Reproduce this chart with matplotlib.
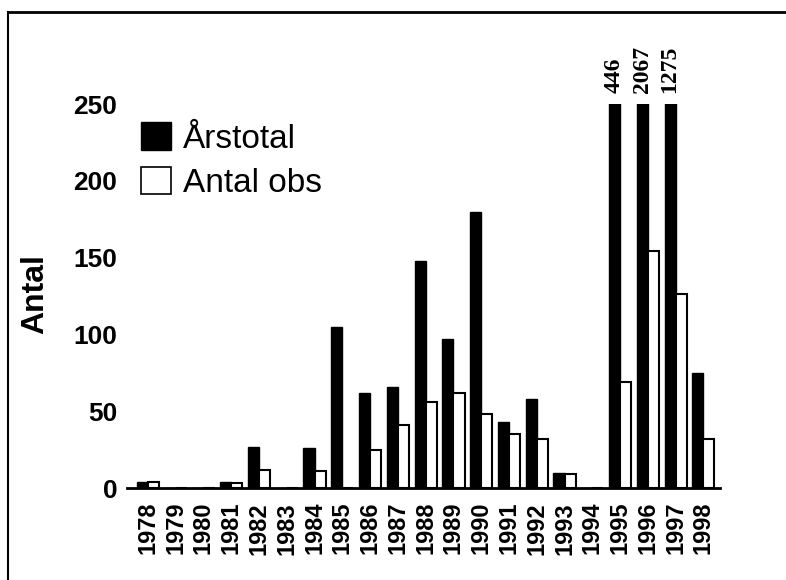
import matplotlib

matplotlib.use("Agg")
import matplotlib.pyplot as plt
from matplotlib.lines import Line2D
from matplotlib.patches import Patch
import numpy as np

# Data
years = [str(y) for y in range(1978, 1999)]
arstotal = [4, 0, 0, 4, 27, 0, 26, 105, 62, 66, 148, 97, 180, 43, 58, 10, 0, 446, 2067, 1275, 75]
antal_obs = [4, 0, 0, 3, 12, 0, 11, 0, 25, 41, 56, 62, 48, 35, 32, 9, 0, 69, 154, 126, 32]
y_max = 250
y_ticks = [0, 50, 100, 150, 200, 250]

plt.rcParams["font.family"] = ["Liberation Sans", "DejaVu Sans"]

fig = plt.figure(figsize=(7.86, 5.8), dpi=100)
ax = fig.add_axes([0.1616, 0.1586, 0.7545, 0.662])

x = np.arange(len(years))
w = 0.4
ax.bar(x - w / 2, arstotal, width=w, color="black", edgecolor="black", linewidth=1.0)
ax.bar(x + w / 2, antal_obs, width=w, color="white", edgecolor="black", linewidth=1.5)

# values that go off the scale are written above the clipped bars
for xi, val in zip(x, arstotal):
    if val > y_max:
        ax.annotate(
            str(val), xy=(xi - w / 2, y_max), xytext=(0, 8), textcoords="offset points",
            rotation=90, ha="center", va="bottom", fontsize=17, fontweight="bold",
            family=["Liberation Serif", "DejaVu Serif"], annotation_clip=False,
        )

ax.set_xlim(-0.75, 20.6)
ax.set_ylim(0, y_max)
ax.set_yticks(y_ticks)
ax.set_xticks(x)
ax.set_xticklabels(years, rotation=90, fontsize=17, fontweight="bold")
ax.tick_params(axis="x", length=0, pad=10)
ax.tick_params(axis="y", length=0, pad=7, labelsize=19)
for lab in ax.get_yticklabels():
    lab.set_fontweight("bold")

for side in ["top", "right", "left"]:
    ax.spines[side].set_visible(False)
ax.spines["bottom"].set_linewidth(2)

ax.set_ylabel("Antal", fontsize=23, fontweight="bold")
ax.yaxis.set_label_coords(-0.13, 0.505)

handles = [
    Patch(facecolor="black", edgecolor="black", label="Årstotal"),
    Patch(facecolor="white", edgecolor="black", linewidth=1.2, label="Antal obs"),
]
ax.legend(
    handles=handles, loc="upper left", bbox_to_anchor=(0.024, 0.952), frameon=False,
    fontsize=24, handlelength=0.9, handleheight=0.9, handletextpad=0.35,
    labelspacing=0.36, borderpad=0, borderaxespad=0,
)

# outer frame lines of the scanned figure
fig.add_artist(Line2D([8 / 786, 8 / 786], [0, 1 - 12 / 580], color="black", linewidth=1.5))
fig.add_artist(Line2D([8 / 786, 1], [1 - 12 / 580, 1 - 12 / 580], color="black", linewidth=2))

fig.savefig("out.png", dpi=100)
